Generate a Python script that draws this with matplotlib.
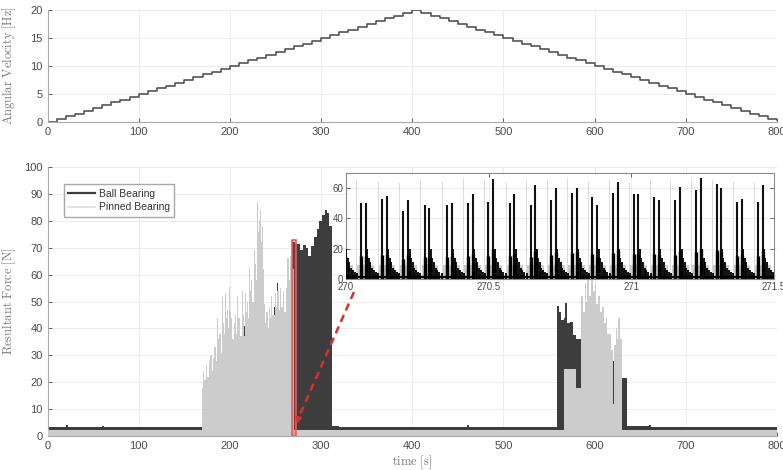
import numpy as np
import matplotlib.pyplot as plt
from matplotlib.lines import Line2D
from matplotlib.patches import Rectangle

plt.rcParams['mathtext.fontset'] = 'cm'
plt.rcParams['font.family'] = ['Liberation Sans', 'DejaVu Sans']

# ---- top panel: stepped speed profile (one level every 10 s)
step_t = list(range(0, 810, 10))
speed_hz = [0.0, 0.5, 1.0, 1.5, 2.0, 2.5, 3.0, 3.5, 4.0, 4.5,
            5.0, 5.5, 6.0, 6.5, 7.0, 7.5, 8.0, 8.5, 9.0, 9.5,
            10.0, 10.5, 11.0, 11.5, 12.0, 12.5, 13.0, 13.5, 14.0, 14.5,
            15.0, 15.5, 16.0, 16.5, 17.0, 17.5, 18.0, 18.5, 19.0, 19.5,
            20.0,
            19.5, 19.0, 18.5, 18.0, 17.5, 17.0, 16.5, 16.0, 15.5, 15.0,
            14.5, 14.0, 13.5, 13.0, 12.5, 12.0, 11.5, 11.0, 10.5, 10.0,
            9.5, 9.0, 8.5, 8.0, 7.5, 7.0, 6.5, 6.0, 5.5, 5.0,
            4.5, 4.0, 3.5, 3.0, 2.5, 2.0, 1.5, 1.0, 0.5, 0.3]

# ---- bottom panel: upper envelopes of the two force signals (step-wise)
ball_t = [0, 20, 22, 60, 62, 170, 171, 181, 182, 216, 217, 248, 249, 252, 253,
          268, 271, 277, 280, 283, 286, 289, 292, 295, 298, 301, 304, 307, 309,
          311.5, 320, 460, 462, 558.5, 561, 563, 566, 568, 570, 573, 576, 580,
          585.5, 620, 621, 629.8, 636, 660, 662, 800]
ball_f = [3.4, 4.0, 3.4, 3.9, 3.4, 18, 20, 37.5, 20, 41, 20, 48, 20, 57, 20,
          72, 71.5, 69, 71, 70, 67, 70.5, 74, 77, 80, 82, 84, 83, 78,
          3.9, 3.5, 4.0, 3.5, 48.5, 46, 43, 44, 49.5, 42, 42.5, 37.5, 36,
          30, 28, 30, 21.5, 3.6, 4.0, 3.5, 3.5]

pinned_t = [0, 169.5, 171, 172, 174, 175, 177, 178, 180, 181, 183, 184.5, 186,
            187, 188, 190, 191, 192, 193, 194, 195, 196, 197, 198, 199, 200,
            201, 202.5, 204, 205, 206, 207, 208, 209, 210, 211.5, 213, 214,
            215, 216, 217, 218, 219, 220, 221, 222, 223, 224.5, 226, 227, 228,
            229, 230, 231, 232, 233, 234, 235, 236, 237, 238.5, 240, 241.5,
            243, 244, 245, 246.5, 248, 249, 250, 251, 252, 253.5, 255, 256.5,
            258, 259.5, 261, 262, 263, 264.5, 266, 267.5, 270, 566, 580, 585.5,
            587, 589, 590.5, 592, 594, 596, 598, 600, 602, 604, 606, 608, 610,
            612, 614, 616, 618, 620, 621, 623, 624.5, 626, 628, 630, 800]
pinned_f = [2.3, 18, 24, 21, 26, 22, 28, 30, 24, 29, 33, 28, 44, 36, 38, 31,
            52, 42, 46, 38, 53, 44, 47, 40, 55.5, 46, 44, 36, 50, 42, 45, 38,
            52, 44, 44, 37, 54, 45, 47, 37, 53, 46, 50, 44, 63, 54, 58, 50,
            69, 60, 64, 58, 87, 76, 80, 84, 72, 78, 62, 49, 42, 46, 40, 48,
            44, 52, 45, 45, 53, 56, 48, 54, 47, 55, 48, 54, 46, 62, 55, 66,
            58, 67, 62, 2.3, 25, 18, 52, 46, 57, 50, 59, 52, 61, 54, 56, 49,
            52, 46, 48, 42, 44, 38, 38, 32, 12, 34, 40, 36, 44, 36, 2.3, 2.3]

# ---- inset (270 - 271.5 s): ball bearing impact pairs, one pair per revolution
pair_t1 = [269.980, 270.052, 270.127, 270.201, 270.277, 270.353, 270.427, 270.499,
           270.575, 270.647, 270.719, 270.791, 270.863, 270.937, 271.009, 271.080,
           271.153, 271.226, 271.299, 271.372, 271.445]
pair_t2 = [269.996, 270.069, 270.143, 270.218, 270.292, 270.371, 270.444, 270.516,
           270.590, 270.663, 270.736, 270.809, 270.881, 270.952, 271.025, 271.097,
           271.171, 271.243, 271.313, 271.387, 271.460]
pair_h1 = [50, 50, 53, 45, 49, 49, 50, 51, 50, 49, 52, 57, 54, 57, 56, 54, 52, 59, 63, 51, 51]
pair_h2 = [50, 50, 55, 52, 47, 50, 56, 66, 56, 62, 60, 60, 49, 64, 56, 52, 61, 67, 60, 53, 62]
tail_dt = [0.005, 0.010, 0.016, 0.022, 0.028, 0.035, 0.043]
tail_h = [20, 14, 11, 7, 6, 4.5, 4]
pinned_spike_h = [64, 66, 65, 64, 66, 65, 67, 66, 64, 65, 66, 67, 65, 66, 64, 66,
                  65, 67, 66, 65, 64]
pinned_fuzz_h = 9
ball_base = 1.5

zoom_window = (270, 271.5)

dark = '#3d3d3d'
light = '#cccccc'
txt = '#4a4a4a'
spine = '#a8a8a8'
gridc = '#e9e9e9'


def style(ax):
    ax.tick_params(direction='in', colors=txt, labelsize=8, length=3, width=0.6)
    for s in ['top', 'right']:
        ax.spines[s].set_visible(False)
    for s in ['left', 'bottom']:
        ax.spines[s].set_color(spine)
        ax.spines[s].set_linewidth(0.8)
    ax.grid(True, color=gridc, lw=0.6)
    ax.set_axisbelow(True)
    ax.yaxis.set_label_coords(-0.04, 0.5)


fig = plt.figure(figsize=(7.83, 4.70), dpi=100)

# top panel
ax1 = fig.add_axes([0.0607, 0.7404, 0.9317, 0.2383])
ax1.step(step_t, speed_hz, where='post', color='#555555', lw=1.2)
ax1.set_xlim(0, 800)
ax1.set_ylim(0, 20)
ax1.set_xticks(range(0, 801, 100))
ax1.set_yticks([0, 5, 10, 15, 20])
ax1.set_ylabel(r'$\mathrm{Angular\ Velocity\ [Hz]}$', color='#7a7a7a', fontsize=9)
style(ax1)

# bottom panel
ax2 = fig.add_axes([0.0607, 0.0723, 0.9317, 0.5723])
ax2.fill_between(ball_t, 0, ball_f, step='post', color=dark, lw=0, zorder=2)
ax2.fill_between(pinned_t, 0, pinned_f, step='post', color=light, lw=0, zorder=3)
ax2.set_xlim(0, 800)
ax2.set_ylim(0, 100)
ax2.set_xticks(range(0, 801, 100))
ax2.set_yticks(range(0, 101, 10))
ax2.set_xlabel(r'$\mathrm{time\ [s]}$', color='#7a7a7a', fontsize=9, labelpad=2)
ax2.set_ylabel(r'$\mathrm{Resultant\ Force\ [N]}$', color='#7a7a7a', fontsize=9)
style(ax2)

# zoom marker + connector
ax2.add_patch(Rectangle((zoom_window[0] - 2, 0), 4, 73, facecolor=(1, 0.2, 0.2, 0.3),
                        edgecolor='#e06060', lw=1.2, zorder=5))
ax2.plot([336, 275.5], [53.5, 7], color='#d83030', lw=1.8, ls=(0, (3, 2)), zorder=6)
ax2.annotate('', xy=(273.5, 3.5), xytext=(275.5, 7),
             arrowprops=dict(arrowstyle='-|>', color='#d83030', lw=1.5,
                             mutation_scale=8), zorder=6)

leg = ax2.legend([Line2D([], [], color=dark, lw=1.6), Line2D([], [], color='#dddddd', lw=1.2)],
                 ['Ball Bearing', 'Pinned Bearing'], loc='upper left',
                 bbox_to_anchor=(0.015, 0.955), fontsize=7.5, fancybox=False,
                 edgecolor=spine, framealpha=1, handlelength=2.6, borderpad=0.45,
                 labelspacing=0.3, handletextpad=0.3)
for t in leg.get_texts():
    t.set_color('#333333')

# inset
ins = fig.add_axes([0.4419, 0.4064, 0.5466, 0.2255])
fuzz_t, fuzz_v = [], []
for a, b in zip(pair_t1, pair_t2):
    fuzz_t += [a - 0.012, b + 0.03]
    fuzz_v += [pinned_fuzz_h, 2.5]
ins.fill_between(fuzz_t, 0, fuzz_v, step='post', color=light, lw=0, zorder=2)
ins.vlines([a - 0.016 for a in pair_t1], 0, pinned_spike_h, color='#dadada', lw=0.7, zorder=2)
ins.axhline(ball_base, color='black', lw=1.6, zorder=3)
ins.vlines(pair_t1, 0, pair_h1, color='#111111', lw=1.5, zorder=4)
ins.vlines(pair_t2, 0, pair_h2, color='#111111', lw=1.5, zorder=4)
ins.vlines(pair_t1, 0, [h * 0.3 for h in pair_h1], color='black', lw=2.4, zorder=4)
ins.vlines(pair_t2, 0, [h * 0.3 for h in pair_h2], color='black', lw=2.4, zorder=4)
for b in pair_t2:
    ins.vlines([b + d for d in tail_dt], 0, tail_h, color='black', lw=1.3, zorder=4)
ins.set_xlim(*zoom_window)
ins.set_ylim(0, 70)
ins.set_xticks([270, 270.5, 271, 271.5])
ins.set_xticklabels(['270', '270.5', '271', '271.5'])
ins.set_yticks([0, 20, 40, 60])
ins.tick_params(direction='in', colors=txt, labelsize=7, length=3, width=0.6,
                top=True, right=True, pad=2)
for s in ins.spines.values():
    s.set_color('#8a8a8a')
    s.set_linewidth(0.8)
ins.grid(True, color=gridc, lw=0.6)
ins.set_axisbelow(True)

fig.savefig('out.png', dpi=100)
